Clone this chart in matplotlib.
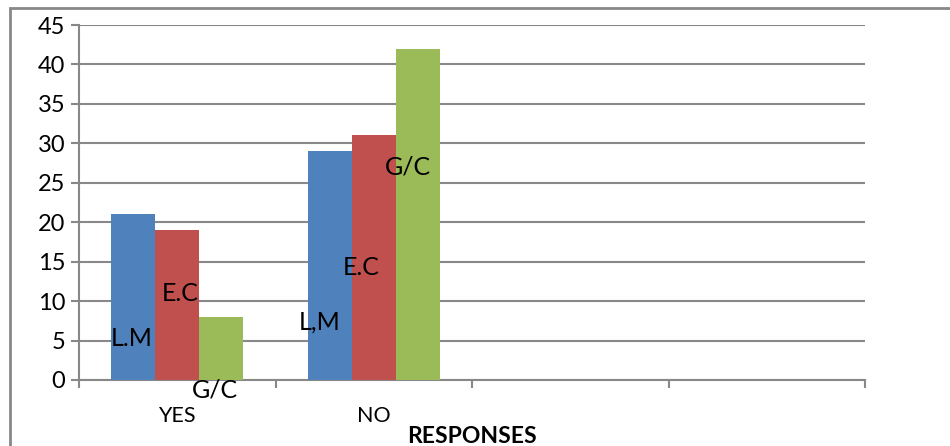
import numpy as np
import matplotlib.pyplot as plt
from matplotlib.patches import Rectangle

plt.rcParams['font.family'] = ['Lato', 'DejaVu Sans']

categories = ['YES', 'NO', '', '']
lm = [21, 29]
ec = [19, 31]
gc = [8, 42]
colors = ['#4f81bd', '#c0504d', '#9bbb59']

# in-bar labels: (text, x in category units, y value)
bar_labels = [('L.M', -0.23, 5.2), ('E.C', 0.015, 11.0), ('G/C', 0.19, -1.3),
              ('L,M', 0.726, 7.3), ('E.C', 0.935, 14.3), ('G/C', 1.174, 27.0)]

fig = plt.figure(figsize=(9.5, 4.46), dpi=100)
ax = fig.add_axes([79/950, 1 - 380/446, (865-79)/950, (380-25)/446])

# outer chart border (cropped at right/bottom)
fig.add_artist(Rectangle((10/950, -0.1), 1.2, 1 - 8/446 + 0.1, transform=fig.transFigure,
                         fill=False, edgecolor='#888888', linewidth=2, clip_on=False))

x = np.arange(2)
w = 0.224
for k, vals in enumerate([lm, ec, gc]):
    ax.bar(x + (k - 1) * w, vals, w, color=colors[k], zorder=3)

for txt, xv, yv in bar_labels:
    ax.text(xv, yv, txt, ha='center', va='center', fontsize=18,
            zorder=4, clip_on=False)

ax.set_xlim(-0.5, 3.5)
ax.set_ylim(0, 45)
ax.set_yticks(np.arange(0, 46, 5))
ax.yaxis.grid(True, color='#888888', linewidth=1.5, zorder=0)
ax.set_xticks(np.arange(-0.5, 3.6, 1))
ax.set_xticklabels([])
for i, c in enumerate(categories):
    ax.text(i, -4.6, c, ha='center', va='center', fontsize=15.5)
ax.text(1.5, -7.2, 'RESPONSES', ha='center', va='center', fontsize=16.5, fontweight='bold')

for s in ['top', 'right']:
    ax.spines[s].set_visible(False)
for s in ['left', 'bottom']:
    ax.spines[s].set_color('#888888')
    ax.spines[s].set_linewidth(1.5)
ax.tick_params(axis='y', length=6, color='#888888', width=1.5, labelsize=17, pad=4)
ax.tick_params(axis='x', length=6, color='#888888', width=1.5)

fig.savefig('out.png', dpi=100)
